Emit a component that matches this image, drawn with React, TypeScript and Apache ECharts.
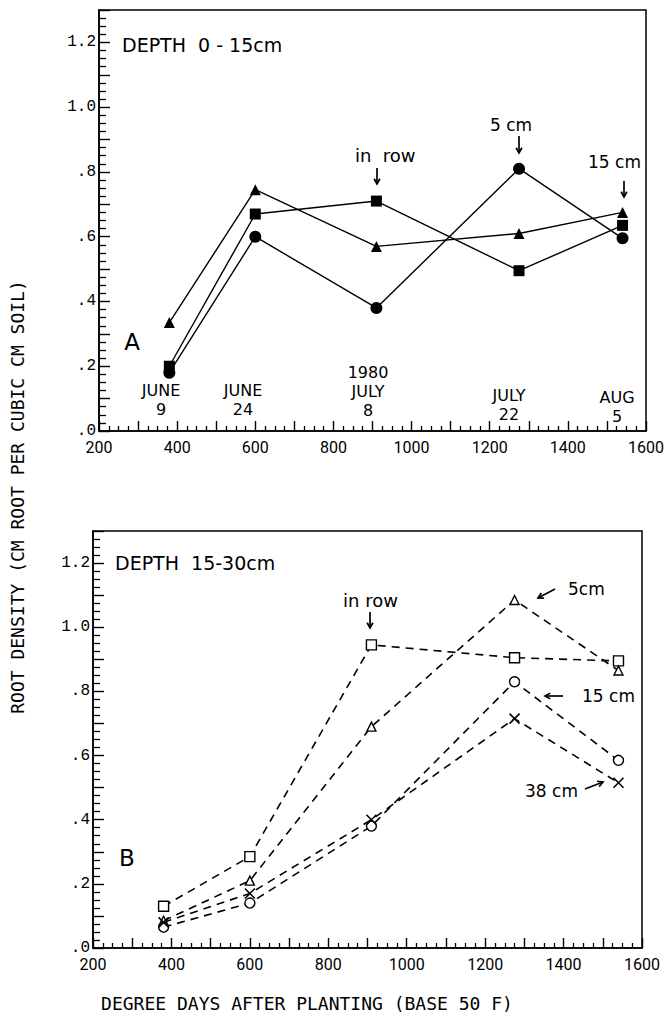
import React, { useEffect, useRef } from "react";
import * as echarts from "echarts";

// ---- data ----
const degreeDays = [380, 600, 910, 1275, 1540];
const dateLabels = [["JUNE", "9"], ["JUNE", "24"], ["1980", "JULY", "8"], ["JULY", "22"], ["AUG", "5"]];

// Panel A: depth 0-15 cm
const topInRow = [0.2, 0.67, 0.71, 0.495, 0.635];
const top5cm = [0.18, 0.6, 0.38, 0.81, 0.595];
const top15cm = [0.335, 0.745, 0.57, 0.61, 0.675];

// Panel B: depth 15-30 cm
const botInRow = [0.13, 0.285, 0.945, 0.905, 0.895];
const bot5cm = [0.085, 0.21, 0.69, 1.085, 0.865];
const bot15cm = [0.065, 0.14, 0.38, 0.83, 0.585];
const bot38cm = [0.08, 0.17, 0.4, 0.715, 0.515];

const xTickValues = [200, 400, 600, 800, 1000, 1200, 1400, 1600];

const pair = (ys: number[]) => degreeDays.map((x, i) => [x, ys[i]]);

const BLACK = "#000";
const ANNO_FONT = "DejaVu Sans";

function arrow(x1: number, y1: number, x2: number, y2: number, head = 6) {
  const ang = Math.atan2(y2 - y1, x2 - x1);
  const a1 = ang + Math.PI - 0.5;
  const a2 = ang + Math.PI + 0.5;
  return [
    { type: "line", shape: { x1, y1, x2, y2 }, style: { stroke: BLACK, lineWidth: 1.7 } },
    {
      type: "polyline",
      shape: {
        points: [
          [x2 + head * Math.cos(a1), y2 + head * Math.sin(a1)],
          [x2, y2],
          [x2 + head * Math.cos(a2), y2 + head * Math.sin(a2)],
        ],
      },
      style: { stroke: BLACK, lineWidth: 1.7, fill: "none" },
    },
  ];
}

function txt(text: string, x: number, y: number, size: number, align = "left", extra: any = {}) {
  return {
    type: "text",
    x,
    y,
    style: {
      text,
      fill: BLACK,
      fontSize: size,
      fontFamily: ANNO_FONT,
      align,
      verticalAlign: "middle",
      ...extra,
    },
  };
}

function xAxisCfg(gridIndex: number) {
  return {
    type: "value",
    gridIndex,
    min: 200,
    max: 1600,
    interval: 100,
    axisLine: { show: true, onZero: false, lineStyle: { color: BLACK, width: 1.6 } },
    axisTick: { show: true, inside: true, length: 10, lineStyle: { color: BLACK, width: 1.4 } },
    minorTick: { show: true, splitNumber: 4, length: 5, lineStyle: { color: BLACK, width: 1.3 } },
    axisLabel: {
      formatter: (v: number) => (xTickValues.indexOf(v) >= 0 ? String(v) : ""),
      margin: 8,
      color: BLACK,
      fontFamily: "Roboto",
      fontSize: 16,
    },
    splitLine: { show: false },
  };
}

function yAxisCfg(gridIndex: number) {
  return {
    type: "value",
    gridIndex,
    min: 0,
    max: 1.3,
    interval: 0.1,
    axisLine: { show: true, onZero: false, lineStyle: { color: BLACK, width: 1.6 } },
    axisTick: { show: true, inside: true, length: 11, lineStyle: { color: BLACK, width: 1.4 } },
    minorTick: { show: true, splitNumber: 4, length: 7, lineStyle: { color: BLACK, width: 1.3 } },
    axisLabel: {
      formatter: (v: number) => {
        const k = Math.round(v * 10);
        if (k % 2 !== 0) return "";
        return (k / 10).toFixed(1).replace(/^0/, "");
      },
      margin: 3,
      color: BLACK,
      fontFamily: "Liberation Mono",
      fontSize: 16,
    },
    splitLine: { show: false },
  };
}

function solid(name: string, data: number[], symbol: string, size: number) {
  return {
    name,
    type: "line",
    xAxisIndex: 0,
    yAxisIndex: 0,
    data: pair(data),
    symbol,
    symbolSize: size,
    showSymbol: true,
    lineStyle: { color: BLACK, width: 1.4 },
    itemStyle: { color: BLACK, borderColor: BLACK, borderWidth: 0 },
  };
}

function dashed(name: string, data: number[], symbol: string, size: number) {
  return {
    name,
    type: "line",
    xAxisIndex: 1,
    yAxisIndex: 1,
    data: pair(data),
    symbol,
    symbolSize: size,
    showSymbol: true,
    lineStyle: { color: BLACK, width: 1.6, type: [8, 6] },
    itemStyle: { color: "#fff", borderColor: BLACK, borderWidth: 1.4 },
  };
}

export default function App() {
  const ref = useRef<HTMLDivElement>(null);
  useEffect(() => {
    if (!ref.current) return;
    const chart = echarts.init(ref.current, undefined, { renderer: "svg" });

    const dateX = [161, 243, 368, 509, 617];
    const dateRowY = [
      [390, 409],
      [390, 409],
      [372, 391, 410],
      [395, 414],
      [397, 416],
    ];

    const graphic: any[] = [
      // axis titles
      {
        type: "text",
        x: 17,
        y: 497,
        rotation: Math.PI / 2,
        style: {
          text: "ROOT DENSITY (CM ROOT PER CUBIC CM SOIL)",
          fill: BLACK,
          fontSize: 18,
          fontFamily: "DejaVu Sans Mono",
          align: "center",
          verticalAlign: "middle",
        },
      },
      {
        type: "text",
        x: 307,
        y: 1003,
        style: {
          text: "DEGREE DAYS AFTER PLANTING (BASE 50 F)",
          fill: BLACK,
          fontSize: 18,
          fontFamily: "DejaVu Sans Mono",
          align: "center",
          verticalAlign: "middle",
        },
      },
      // panel A
      txt("DEPTH  0 - 15cm", 122, 45, 19),
      txt("A", 132, 342, 23, "center"),
      txt("in  row", 355, 155, 18),
      ...arrow(377, 168, 377, 184),
      txt("5 cm", 490, 125, 17),
      ...arrow(519, 136, 519, 153),
      txt("15 cm", 588, 162, 17),
      ...arrow(624, 181, 624, 197),
      // panel B
      txt("DEPTH  15-30cm", 115, 563, 19),
      txt("B", 127, 858, 23, "center"),
      txt("in row", 343, 600, 18),
      ...arrow(370, 612, 370, 628),
      txt("5cm", 568, 589, 17),
      ...arrow(555, 589, 538, 598),
      txt("15 cm", 582, 696, 17),
      ...arrow(563, 696, 545, 696),
      txt("38 cm", 525, 791, 17),
      ...arrow(585, 789, 603, 782),
    ];
    dateLabels.forEach((lines, i) => {
      lines.forEach((line, j) => {
        graphic.push(txt(line, dateX[i], dateRowY[i][j], 16, "center"));
      });
    });

    chart.setOption({
      animation: false,
      backgroundColor: "#fff",
      grid: [
        { left: 99, width: 547, top: 10, height: 421, show: true, borderColor: BLACK, borderWidth: 1.5, backgroundColor: "transparent" },
        { left: 93, width: 549, top: 531, height: 417, show: true, borderColor: BLACK, borderWidth: 1.5, backgroundColor: "transparent" },
      ],
      xAxis: [xAxisCfg(0), xAxisCfg(1)],
      yAxis: [yAxisCfg(0), yAxisCfg(1)],
      series: [
        solid("in row (0-15cm)", topInRow, "rect", 11),
        solid("5 cm (0-15cm)", top5cm, "circle", 12),
        solid("15 cm (0-15cm)", top15cm, "triangle", 11),
        dashed("in row (15-30cm)", botInRow, "rect", 10),
        dashed("5 cm (15-30cm)", bot5cm, "triangle", 9),
        dashed("15 cm (15-30cm)", bot15cm, "circle", 10),
        {
          ...dashed("38 cm (15-30cm)", bot38cm, "path://M0,0L10,10M10,0L0,10", 10),
          itemStyle: { color: "none", borderColor: BLACK, borderWidth: 1.6 },
        },
      ],
      graphic,
    });
    return () => chart.dispose();
  }, []);
  return (
    <div
      ref={ref}
      style={{ position: "absolute", left: 0, top: 0, width: 668, height: 1019, background: "#fff" }}
    />
  );
}
